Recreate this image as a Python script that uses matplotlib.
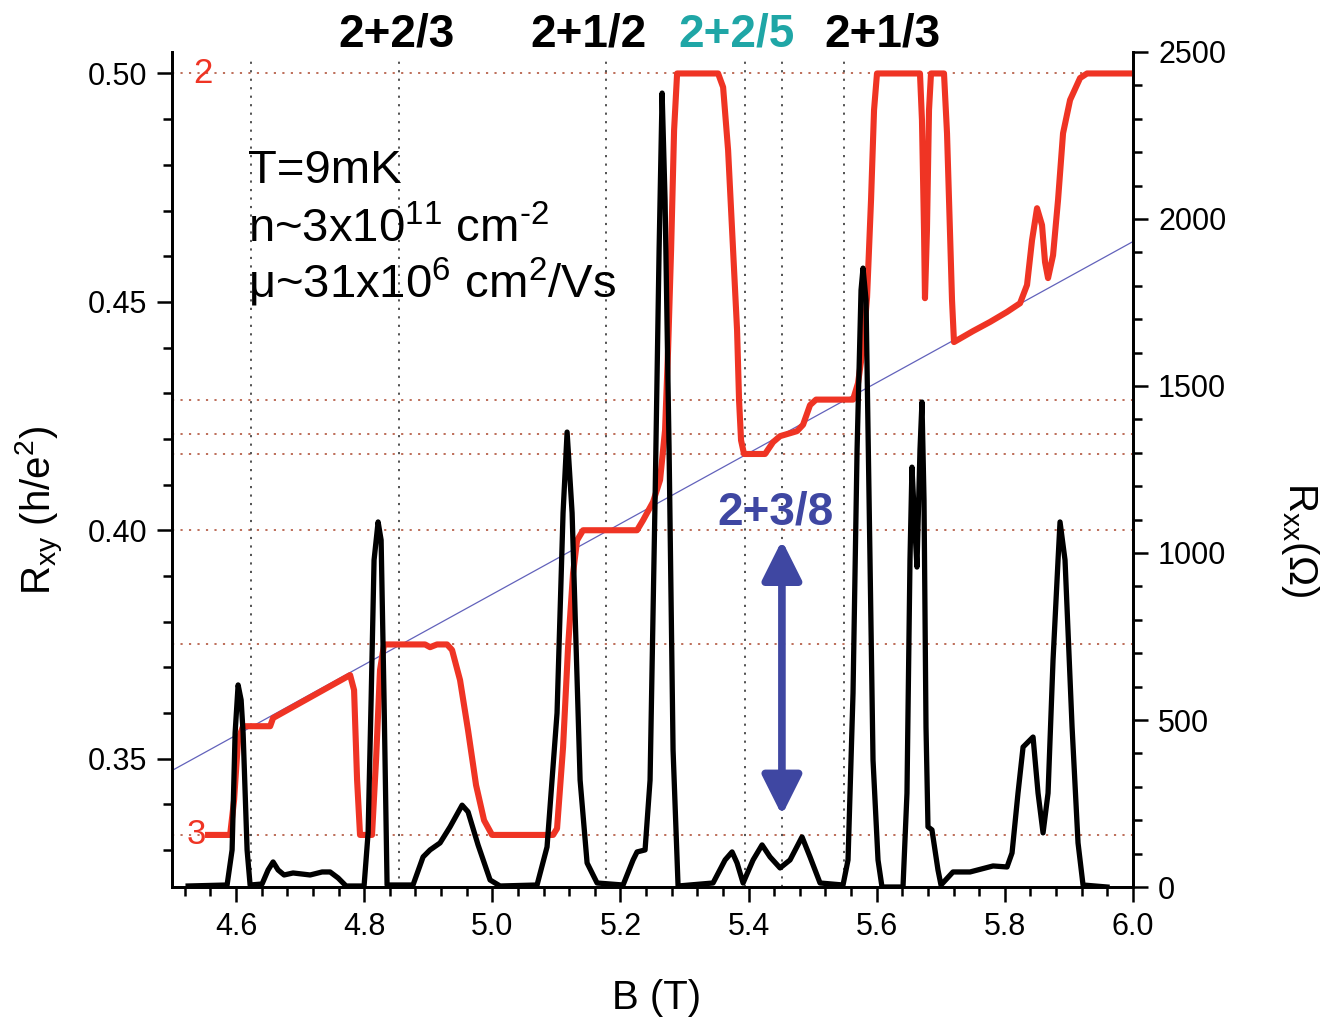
import matplotlib
matplotlib.use("Agg")
import matplotlib.pyplot as plt
from matplotlib.ticker import MultipleLocator

plt.rcParams['font.family'] = ['Liberation Sans', 'DejaVu Sans']
plt.rcParams['mathtext.fontset'] = 'custom'
plt.rcParams['mathtext.rm'] = 'Liberation Sans'
plt.rcParams['mathtext.it'] = 'Liberation Sans:italic'
plt.rcParams['mathtext.bf'] = 'Liberation Sans:bold'
plt.rcParams['mathtext.default'] = 'regular'

# Hall resistance R_xy (h/e^2) vs field B (T)
b_xy = [4.5563, 4.5907, 4.5969, 4.6031, 4.6110, 4.6532, 4.6578, 4.7780, 4.7842, 4.7889,
        4.7935, 4.8122, 4.8185, 4.8247, 4.8310, 4.8950, 4.9028, 4.9137, 4.9293, 4.9371,
        4.9496, 4.9621, 4.9746, 4.9871, 4.9996, 5.0948, 5.1010, 5.1104, 5.1182, 5.1260,
        5.1323, 5.1416, 5.2259, 5.2353, 5.2509, 5.2618, 5.2696, 5.2743, 5.2790, 5.2837,
        5.2884, 5.3524, 5.3602, 5.3680, 5.3758, 5.3820, 5.3851, 5.3882, 5.3929, 5.4257,
        5.4382, 5.4491, 5.4756, 5.4850, 5.4959, 5.5053, 5.5630, 5.5708, 5.5786, 5.5849,
        5.5911, 5.5958, 5.6004, 5.6675, 5.6706, 5.6738, 5.6753, 5.6784, 5.6816, 5.6847,
        5.7050, 5.7097, 5.7144, 5.7175, 5.7206, 5.7503, 5.7768, 5.8034, 5.8237, 5.8346,
        5.8424, 5.8502, 5.8580, 5.8627, 5.8674, 5.8752, 5.8830, 5.8908, 5.9018, 5.9174,
        5.9283, 6.0]
r_xy = [0.3333, 0.3333, 0.3409, 0.3541, 0.3571, 0.3571, 0.3589, 0.3683, 0.3650, 0.3453,
        0.3333, 0.3333, 0.3497, 0.3694, 0.3750, 0.3750, 0.3744, 0.3750, 0.3750, 0.3738,
        0.3672, 0.3562, 0.3442, 0.3365, 0.3333, 0.3333, 0.3347, 0.3525, 0.3744, 0.3906,
        0.3978, 0.4000, 0.4000, 0.4022, 0.4062, 0.4110, 0.4219, 0.4394, 0.4613, 0.4876,
        0.5000, 0.5000, 0.4970, 0.4832, 0.4613, 0.4438, 0.4285, 0.4197, 0.4167, 0.4167,
        0.4193, 0.4206, 0.4217, 0.4231, 0.4274, 0.4286, 0.4286, 0.4322, 0.4401, 0.4510,
        0.4723, 0.4920, 0.5000, 0.5000, 0.4898, 0.4657, 0.4508, 0.4657, 0.4920, 0.5000,
        0.5000, 0.4869, 0.4650, 0.4504, 0.4412, 0.4436, 0.4456, 0.4478, 0.4497, 0.4537,
        0.4635, 0.4705, 0.4668, 0.4587, 0.4552, 0.4602, 0.4723, 0.4869, 0.4942, 0.4990,
        0.5000, 0.5000]

# longitudinal resistance R_xx (Ohm)
b_xx = [4.5252, 4.5860, 4.5938, 4.5985, 4.6032, 4.6079, 4.6110, 4.6172, 4.6219, 4.6406,
        4.6500, 4.6578, 4.6656, 4.6750, 4.6890, 4.7156, 4.7343, 4.7468, 4.7593, 4.7717,
        4.7998, 4.8061, 4.8108, 4.8154, 4.8217, 4.8264, 4.8310, 4.8357, 4.8450, 4.8762,
        4.8919, 4.9028, 4.9184, 4.9340, 4.9528, 4.9621, 4.9777, 4.9965, 5.0121, 5.0698,
        5.0854, 5.1010, 5.1104, 5.1167, 5.1245, 5.1370, 5.1479, 5.1635, 5.2041, 5.2197,
        5.2259, 5.2384, 5.2462, 5.2540, 5.2603, 5.2650, 5.2696, 5.2759, 5.2821, 5.2899,
        5.3445, 5.3633, 5.3742, 5.3820, 5.3914, 5.4070, 5.4210, 5.4335, 5.4491, 5.4647,
        5.4834, 5.4959, 5.5115, 5.5474, 5.5552, 5.5630, 5.5693, 5.5755, 5.5786, 5.5833,
        5.5895, 5.5942, 5.6020, 5.6082, 5.6410, 5.6472, 5.6519, 5.6550, 5.6597, 5.6628,
        5.6675, 5.6706, 5.6738, 5.6769, 5.6800, 5.6862, 5.6909, 5.6956, 5.7003, 5.7190,
        5.7456, 5.7815, 5.8034, 5.8112, 5.8205, 5.8284, 5.8362, 5.8440, 5.8518, 5.8596,
        5.8674, 5.8752, 5.8830, 5.8861, 5.8939, 5.9049, 5.9142, 5.9220, 5.9594]
r_xx = [3, 6, 111, 461, 605, 560, 461, 111, 6, 9,
        51, 75, 51, 36, 42, 36, 45, 45, 27, 3,
        3, 162, 560, 979, 1093, 1039, 560, 6, 6, 6,
        90, 111, 132, 180, 245, 225, 126, 21, 3, 6,
        120, 521, 1120, 1362, 1120, 320, 72, 12, 6, 81,
        105, 111, 320, 1159, 1907, 2377, 2057, 1308, 410, 3,
        12, 81, 105, 72, 12, 81, 126, 90, 57, 81,
        150, 90, 12, 6, 81, 581, 1308, 1787, 1853, 1757,
        979, 380, 81, 0, 0, 281, 979, 1257, 1069, 958,
        1308, 1452, 1159, 479, 180, 171, 111, 51, 6, 45,
        45, 63, 60, 102, 281, 419, 434, 449, 281, 162,
        281, 680, 979, 1093, 979, 479, 132, 6, 0]

# classical Hall line
b_classic = [4.5, 6.0]
r_classic = [0.3474, 0.4632]

# plateau levels and field positions of the guide lines
plateau_levels = [1 / 2, 3 / 7, 8 / 19, 5 / 12, 2 / 5, 3 / 8, 1 / 3]
guide_fields = [4.623, 4.855, 5.178, 5.395, 5.452, 5.549]

top_labels = ['2+2/3', '2+1/2', '2+2/5', '2+1/3']
top_label_x = [396, 589, 737, 882]
top_label_colors = ['black', 'black', '#1fa6a6', 'black']

RED = '#ef3424'
BLUE = '#3f47a2'

W, H = 1338, 1022
fig = plt.figure(figsize=(W / 100, H / 100), dpi=100)
ax = fig.add_axes([172 / W, 1 - 887 / H, (1133 - 172) / W, (887 - 52) / H])
ax2 = ax.twinx()

ax.set_xlim(4.5, 6.0)
ax.set_ylim(0.3219, 0.5047)
ax2.set_ylim(0, 2500)

ax.hlines(plateau_levels, 4.5, 6.0, colors='#b8624c', linestyles=(0, (1.2, 3.5)), linewidth=1.3, zorder=1)
ax.vlines(guide_fields, 0.3219, 0.5035, colors='#444444', linestyles=(0, (1.2, 3.5)), linewidth=1.3, zorder=1)

ax.plot(b_classic, r_classic, color='#6262bb', linewidth=0.9, zorder=2)
ax.plot(b_xy, r_xy, color=RED, linewidth=4.4, solid_joinstyle='round', zorder=3)
ax2.plot(b_xx, r_xx, color='black', linewidth=3.8, solid_joinstyle='round', zorder=3)

for a in (ax, ax2):
    a.spines['top'].set_visible(False)
    for s in ('left', 'right', 'bottom'):
        a.spines[s].set_linewidth(2.0)

ax.xaxis.set_major_locator(MultipleLocator(0.2))
ax.xaxis.set_minor_locator(MultipleLocator(0.04))
ax.yaxis.set_major_locator(MultipleLocator(0.05))
ax.yaxis.set_minor_locator(MultipleLocator(0.01))
ax2.yaxis.set_major_locator(MultipleLocator(500))
ax2.yaxis.set_minor_locator(MultipleLocator(100))
ax.xaxis.set_major_formatter(plt.FormatStrFormatter('%.1f'))
ax.yaxis.set_major_formatter(plt.FormatStrFormatter('%.2f'))

ax.tick_params(which='major', direction='out', length=11, width=1.8, labelsize=22, pad=7)
ax.tick_params(which='minor', direction='out', length=6.5, width=1.8)
ax2.tick_params(which='major', direction='out', length=11, width=1.8, labelsize=22, pad=7)
ax2.tick_params(which='minor', direction='out', length=6.5, width=1.8)

# axis titles
fig.text(657 / W, 1 - 998 / H, 'B (T)', fontsize=29, ha='center', va='center')
fig.text(40 / W, 1 - 510 / H, 'R$_{xy}$ (h/e$^{2}$)', fontsize=29, ha='center', va='center', rotation=90)
fig.text(1300 / W, 1 - 540 / H, 'R$_{xx}$(Ω)', fontsize=29, ha='center', va='center', rotation=270)

# filling-factor labels above the plot
for lab, xp, col in zip(top_labels, top_label_x, top_label_colors):
    fig.text(xp / W, 1 - 46 / H, lab, fontsize=33, fontweight='bold', color=col,
             ha='center', va='baseline')

# sample parameters
fig.text(248 / W, 1 - 183 / H, 'T=9mK', fontsize=34, ha='left', va='baseline')
fig.text(248 / W, 1 - 242 / H, r'n~3x10$^{11}$ cm$^{\text{-2}}$', fontsize=34, ha='left', va='baseline')
fig.text(248 / W, 1 - 298 / H, 'μ~31x10$^{6}$ cm$^{2}$/Vs', fontsize=34, ha='left', va='baseline')

# red plateau numbers
ax.text(4.548, 0.5, '2', color=RED, fontsize=25, ha='center', va='center')
ax.text(4.538, 1 / 3, '3', color=RED, fontsize=25, ha='center', va='center')

# 2+3/8 marker
ax.text(5.442, 0.4012, '2+3/8', color=BLUE, fontsize=33, fontweight='bold', ha='center', va='baseline')
ax.annotate('', xy=(5.452, 0.3376), xytext=(5.452, 0.3978),
            arrowprops=dict(arrowstyle='<|-|>,head_length=1.2,head_width=0.6', color=BLUE,
                            lw=5.5, mutation_scale=20, shrinkA=0, shrinkB=0))

fig.savefig('out.png', dpi=100)
